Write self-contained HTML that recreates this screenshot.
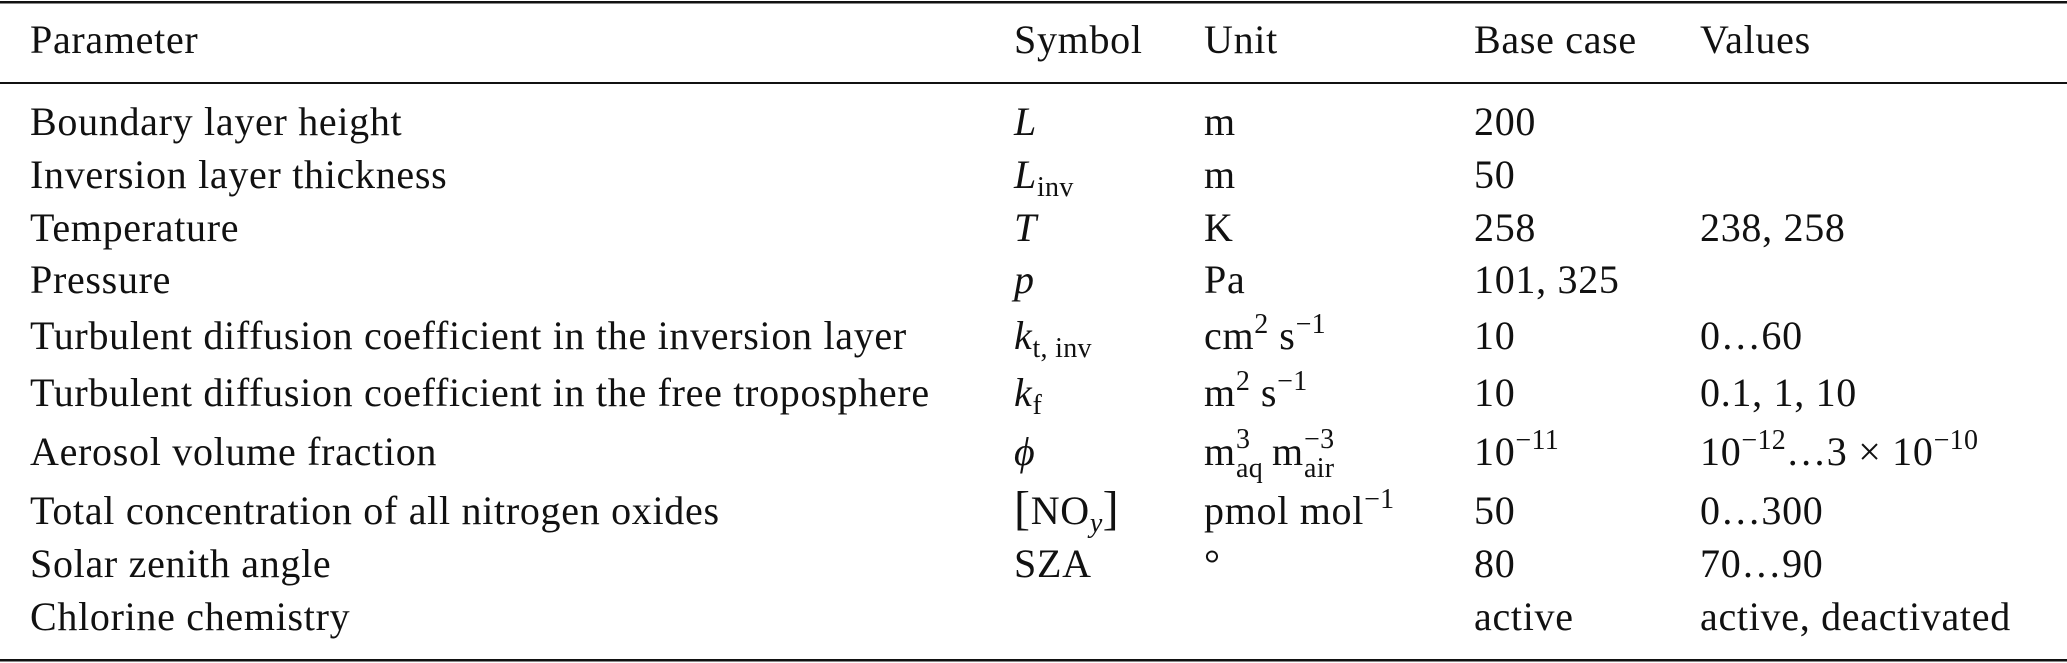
<!DOCTYPE html>
<html><head><meta charset="utf-8"><style>
html,body{margin:0;padding:0;background:#fff;}
svg{display:block;}
text{font-family:"Liberation Serif",serif;font-size:40px;letter-spacing:0.7px;fill:#111;}
.i{font-style:italic;}
.s{font-size:28px;letter-spacing:0.3px;}
</style></head><body>
<svg width="2067" height="663" viewBox="0 0 2067 663" xmlns="http://www.w3.org/2000/svg">
<rect x="0" y="1" width="2067" height="2.5" fill="#111"/>
<rect x="0" y="82" width="2067" height="2" fill="#111"/>
<rect x="0" y="659" width="2067" height="2.5" fill="#111"/>

<text x="30" y="53">Parameter</text>
<text x="1014" y="53">Symbol</text>
<text x="1204" y="53">Unit</text>
<text x="1474" y="53">Base case</text>
<text x="1700" y="53">Values</text>

<text x="30" y="135">Boundary layer height</text>
<text x="1014" y="135" class="i">L</text>
<text x="1204" y="135">m</text>
<text x="1474" y="135">200</text>

<text x="30" y="188">Inversion layer thickness</text>
<text x="1014" y="188"><tspan class="i">L</tspan><tspan class="s" dy="8">inv</tspan></text>
<text x="1204" y="188">m</text>
<text x="1474" y="188">50</text>

<text x="30" y="241">Temperature</text>
<text x="1014" y="241" class="i">T</text>
<text x="1204" y="241">K</text>
<text x="1474" y="241">258</text>
<text x="1700" y="241">238, 258</text>

<text x="30" y="293">Pressure</text>
<text x="1014" y="293" class="i">p</text>
<text x="1204" y="293">Pa</text>
<text x="1474" y="293">101, 325</text>

<text x="30" y="349">Turbulent diffusion coefficient in the inversion layer</text>
<text x="1014" y="349"><tspan class="i">k</tspan><tspan class="s" dy="8">t, inv</tspan></text>
<text x="1204" y="349">cm<tspan class="s" dy="-16">2</tspan><tspan dy="16"> s</tspan><tspan class="s" dy="-16">−1</tspan></text>
<text x="1474" y="349">10</text>
<text x="1700" y="349">0…60</text>

<text x="30" y="406">Turbulent diffusion coefficient in the free troposphere</text>
<text x="1014" y="406"><tspan class="i">k</tspan><tspan class="s" dy="8">f</tspan></text>
<text x="1204" y="406">m<tspan class="s" dy="-16">2</tspan><tspan dy="16"> s</tspan><tspan class="s" dy="-16">−1</tspan></text>
<text x="1474" y="406">10</text>
<text x="1700" y="406">0.1,  1,  10</text>

<text x="30" y="465">Aerosol volume fraction</text>
<text x="1014" y="465" class="i">ϕ</text>
<text x="1204" y="465">m</text><text x="1236" y="448" class="s">3</text><text x="1236" y="477" class="s">aq</text>
<text x="1272" y="465">m</text><text x="1304" y="448" class="s">−3</text><text x="1304" y="477" class="s">air</text>
<text x="1474" y="465">10<tspan class="s" dy="-16">−11</tspan></text>
<text x="1700" y="465">10<tspan class="s" dy="-16">−12</tspan><tspan dy="16">…3 × 10</tspan><tspan class="s" dy="-16">−10</tspan></text>

<text x="30" y="524">Total concentration of all nitrogen oxides</text>
<text x="1014" y="524"><tspan font-size="48">[</tspan>NO<tspan class="s i" dy="8">y</tspan><tspan font-size="48" dy="-8">]</tspan></text>
<text x="1204" y="524">pmol mol<tspan class="s" dy="-16">−1</tspan></text>
<text x="1474" y="524">50</text>
<text x="1700" y="524">0…300</text>

<text x="30" y="577">Solar zenith angle</text>
<text x="1014" y="577">SZA</text>
<text x="1204" y="577">°</text>
<text x="1474" y="577">80</text>
<text x="1700" y="577">70…90</text>

<text x="30" y="630">Chlorine chemistry</text>
<text x="1474" y="630">active</text>
<text x="1700" y="630">active, deactivated</text>
</svg>
</body></html>
